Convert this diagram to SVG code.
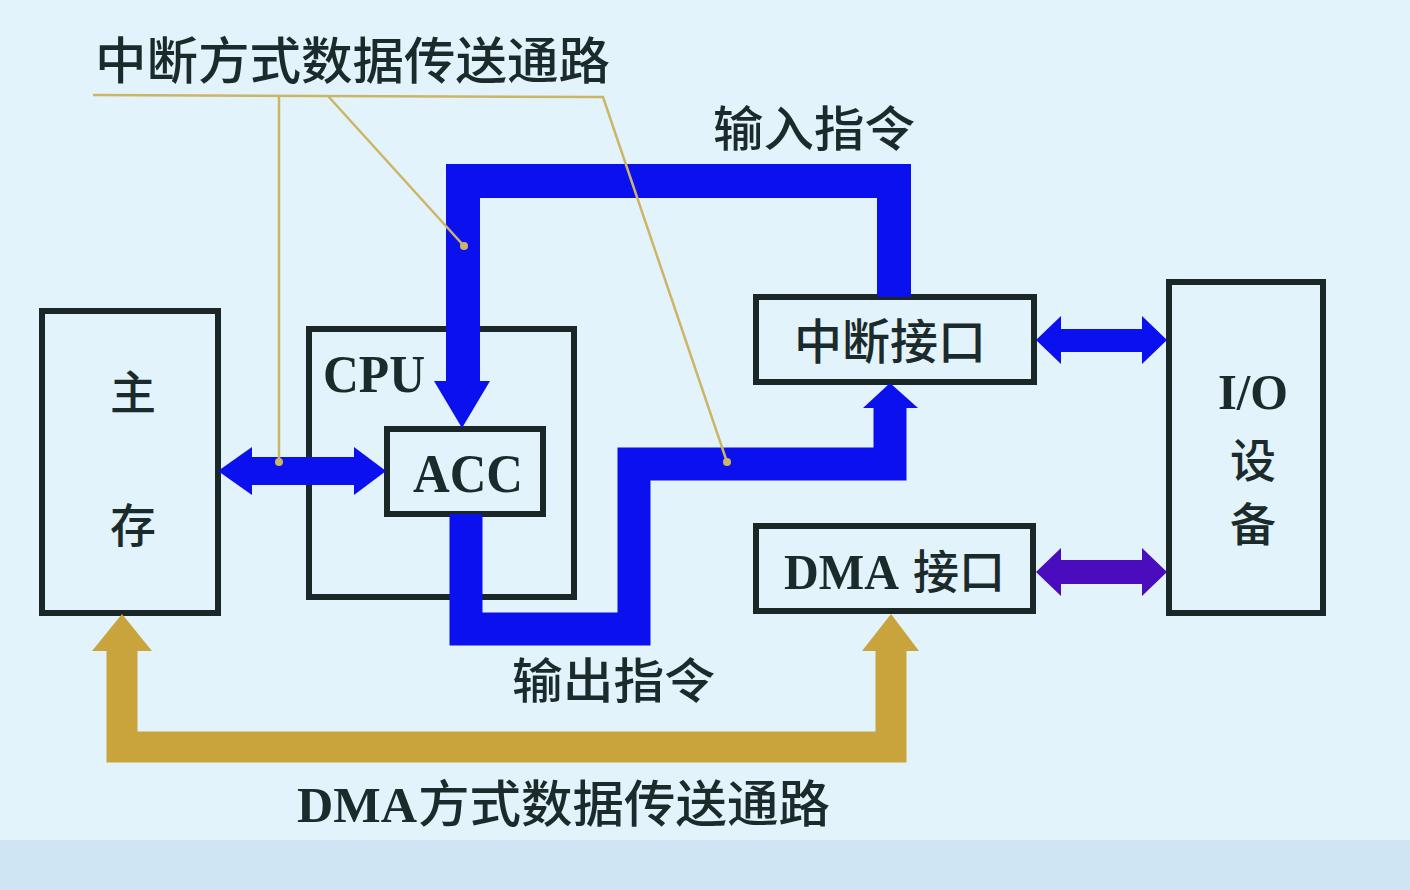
<svg xmlns="http://www.w3.org/2000/svg" width="1410" height="890" viewBox="0 0 1410 890">
<style>
.box{fill:none;stroke:#1b2727;stroke-width:6}
.cjk{font-family:"Noto Sans CJK SC","Noto Sans",sans-serif;font-weight:500;fill:#1b2a2a}
.lat{font-family:"Liberation Serif","Times New Roman",serif;font-weight:bold;fill:#1b2a2a}
.blue{fill:none;stroke:#0a10ee;stroke-linejoin:miter;stroke-linecap:butt}
.gold{fill:none;stroke:#c9a33c;stroke-linejoin:miter;stroke-linecap:butt}
.lead{fill:none;stroke:#cdb566;stroke-width:2.5}
</style>
<rect x="0" y="0" width="1410" height="890" fill="#e2f3fb"/>
<rect x="0" y="840" width="1410" height="50" fill="#cfe5f3"/>

<g id="main-memory">
<rect class="box" x="42" y="311" width="176" height="302"/>
<text class="cjk" x="133" y="409" font-size="46" text-anchor="middle">主</text>
<text class="cjk" x="133" y="542" font-size="46" text-anchor="middle">存</text>
</g>
<g id="cpu">
<rect class="box" x="309" y="329" width="265" height="268"/>
<text class="lat" x="323" y="392" font-size="52" textLength="102" lengthAdjust="spacingAndGlyphs">CPU</text>
</g>
<g id="acc">
<rect class="box" x="387" y="429" width="156" height="85"/>
<text class="lat" x="413" y="492" font-size="54" textLength="110" lengthAdjust="spacingAndGlyphs">ACC</text>
</g>
<g id="interrupt-interface">
<rect class="box" x="756" y="297" width="278" height="85"/>
<text class="cjk" x="890" y="359" font-size="48" text-anchor="middle">中断接口</text>
</g>
<g id="dma-interface">
<rect class="box" x="756" y="526" width="277" height="85"/>
<text class="lat" x="784" y="589" font-size="50" textLength="115" lengthAdjust="spacingAndGlyphs">DMA</text>
<text class="cjk" x="913" y="588" font-size="46">接口</text>
</g>
<g id="io-device">
<rect class="box" x="1169" y="282" width="154" height="331"/>
<text class="lat" x="1253" y="409" font-size="50" text-anchor="middle" textLength="70" lengthAdjust="spacingAndGlyphs">I/O</text>
<text class="cjk" x="1253" y="477" font-size="46" text-anchor="middle">设</text>
<text class="cjk" x="1253" y="541" font-size="46" text-anchor="middle">备</text>
</g>

<g id="connectors">
<!-- input instruction path -->
<polyline class="blue" stroke-width="34" points="463,383 463,181 894,181 894,297"/>
<polygon fill="#0a10ee" points="434,381 490,381 462,428"/>
<!-- output instruction path -->
<polyline class="blue" stroke-width="33" points="466,514 466,629 634,629 634,464 890,464 890,406"/>
<polygon fill="#0a10ee" points="863,408 918,408 890,383"/>
<!-- memory - ACC -->
<polygon fill="#0a10ee" points="218,471 252,447 252,457 354,457 354,447 386,471 354,495 354,485 252,485 252,495"/>
<!-- interrupt interface - IO -->
<polygon fill="#0a10ee" points="1036,340 1061,316 1061,329 1142,329 1142,316 1167,340 1142,364 1142,352 1061,352 1061,364"/>
<!-- DMA interface - IO -->
<polygon fill="#4a0cbc" points="1036,572 1061,548 1061,560 1142,560 1142,548 1167,572 1142,596 1142,584 1061,584 1061,596"/>
<!-- DMA path -->
<polyline class="gold" stroke-width="31" points="122,650 122,747 891,747 891,650"/>
<polygon fill="#c9a33c" points="92,651 152,651 122,614"/>
<polygon fill="#c9a33c" points="862,651 919,651 891,614"/>
<!-- leader lines -->
<polyline class="lead" points="93,95 603,97 727,462"/>
<line class="lead" x1="279" y1="96" x2="279" y2="462"/>
<line class="lead" x1="328" y1="96" x2="464" y2="246"/>
<circle cx="279" cy="462" r="4" fill="#cdb566"/>
<circle cx="464" cy="246" r="4" fill="#cdb566"/>
<circle cx="727" cy="462" r="4" fill="#cdb566"/>
</g>

<g id="labels">
<text class="cjk" x="95" y="79" font-size="50" textLength="515" lengthAdjust="spacingAndGlyphs">中断方式数据传送通路</text>
<text class="cjk" x="713" y="146" font-size="48" textLength="202" lengthAdjust="spacingAndGlyphs">输入指令</text>
<text class="cjk" x="512" y="698" font-size="48" textLength="203" lengthAdjust="spacingAndGlyphs">输出指令</text>
<text x="297" y="822"><tspan class="lat" font-size="50" textLength="120" lengthAdjust="spacingAndGlyphs">DMA</tspan><tspan class="cjk" x="418" font-size="50" textLength="412" lengthAdjust="spacingAndGlyphs">方式数据传送通路</tspan></text>
</g>
</svg>
